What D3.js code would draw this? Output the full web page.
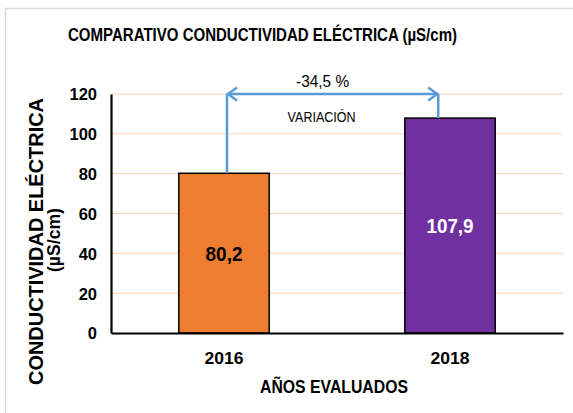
<!DOCTYPE html>
<html>
<head>
<meta charset="utf-8">
<script src="https://cdn.jsdelivr.net/npm/d3@7"></script>
<style>
  body { margin: 0; background: #fff; }
  svg text { font-family: "Liberation Sans", Arial, sans-serif; fill: #000; }
</style>
</head>
<body>
<div id="chart"></div>
<script>
// Data
const years = ["2016", "2018"];
const values = [80.2, 107.9];
const valueLabels = ["80,2", "107,9"];
const barColors = ["#ed7d31", "#7030a0"];
const labelColors = ["#000", "#fff"];
const yTicks = [0, 20, 40, 60, 80, 100, 120];
const variationText = "-34,5 %";

const W = 573, H = 413;
const margin = {top: 94, right: 10, bottom: 80, left: 111},
    width = 563 - margin.left,
    height = 333 - margin.top;

// squeeze text to look like a narrow font
function fit(sel, w) {
    sel.attr("textLength", w).attr("lengthAdjust", "spacingAndGlyphs");
}

const svg = d3.select("#chart")
    .append("svg")
    .attr("width", W)
    .attr("height", H);

// Outer frame
svg.append("path")
    .attr("d", "M5.5,413 L5.5,8.5 L573,8.5")
    .attr("fill", "none")
    .attr("stroke", "#d9d9d9")
    .attr("stroke-width", 1.5);

const g = svg.append("g")
    .attr("transform", `translate(${margin.left},${margin.top})`);

const x = d3.scaleBand()
    .domain(years)
    .range([0, width])
    .paddingInner(0.6)
    .paddingOuter(0.3);

const y = d3.scaleLinear()
    .domain([0, 120])
    .range([height, 0]);

// Gridlines
g.append("g")
    .selectAll("line")
    .data(yTicks.filter(d => d > 0))
    .join("line")
        .attr("x1", 0)
        .attr("x2", width)
        .attr("y1", d => y(d))
        .attr("y2", d => y(d))
        .attr("stroke", "#f9d3b8")
        .attr("stroke-width", 1);

// Bars
g.selectAll("rect.bar")
    .data(values)
    .join("rect")
        .attr("class", "bar")
        .attr("x", (d, i) => x(years[i]))
        .attr("y", d => y(d))
        .attr("width", x.bandwidth())
        .attr("height", d => height - y(d))
        .attr("fill", (d, i) => barColors[i])
        .attr("stroke", "#000")
        .attr("stroke-width", 1.5);

// Value labels (offset below the bar top, as placed in the original)
const labelOffset = [88, 115];
g.selectAll("text.val")
    .data(values)
    .join("text")
        .attr("class", "val")
        .attr("x", (d, i) => x(years[i]) + x.bandwidth() / 2)
        .attr("y", (d, i) => y(d) + labelOffset[i])
        .attr("text-anchor", "middle")
        .style("font-size", "21px")
        .style("font-weight", "bold")
        .style("fill", (d, i) => labelColors[i])
        .text((d, i) => valueLabels[i])
        .each(function(d, i) { fit(d3.select(this), i === 0 ? 37 : 47); });

// Y axis
const yAxis = g.append("g")
    .call(d3.axisLeft(y).tickValues(yTicks).tickSize(0).tickPadding(14));
yAxis.select(".domain").attr("stroke", "#000").attr("stroke-width", 2.2);
yAxis.selectAll("text")
    .style("font-size", "16.5px")
    .style("font-weight", "bold")
    .attr("dy", "0.36em");

// X axis
const xAxis = g.append("g")
    .attr("transform", `translate(0,${height})`)
    .call(d3.axisBottom(x).tickSize(0).tickPadding(0));
xAxis.select(".domain").attr("stroke", "#000").attr("stroke-width", 2.2);
xAxis.selectAll("text")
    .attr("dy", null)
    .attr("y", 31)
    .style("font-size", "17px")
    .style("font-weight", "bold")
    .each(function() { fit(d3.select(this), 39); });

// Variation bracket
const blue = "#5b9bd5";
const x1 = x("2016") + x.bandwidth() / 2 + 3;
const x2 = x("2018") + x.bandwidth() * 0.37;
const yTop = y(120);
const bracket = g.append("g")
    .attr("fill", "none")
    .attr("stroke", blue)
    .attr("stroke-width", 2.5);
bracket.append("line")
    .attr("x1", x1).attr("x2", x1)
    .attr("y1", yTop).attr("y2", y(values[0]));
bracket.append("line")
    .attr("x1", x2).attr("x2", x2)
    .attr("y1", yTop).attr("y2", y(values[1]));
bracket.append("line")
    .attr("x1", x1).attr("x2", x2)
    .attr("y1", yTop).attr("y2", yTop);
bracket.append("path")
    .attr("d", `M${x1 + 10},${yTop - 6.5} L${x1 + 1},${yTop} L${x1 + 10},${yTop + 6.5}`);
bracket.append("path")
    .attr("d", `M${x2 - 10},${yTop - 6.5} L${x2 - 1},${yTop} L${x2 - 10},${yTop + 6.5}`);

g.append("text")
    .attr("x", (x1 + x2) / 2 - 10)
    .attr("y", yTop - 7)
    .attr("text-anchor", "middle")
    .style("font-size", "16px")
    .text(variationText)
    .call(fit, 53);

g.append("text")
    .attr("x", (x1 + x2) / 2 - 11)
    .attr("y", yTop + 28)
    .attr("text-anchor", "middle")
    .style("font-size", "14px")
    .text("VARIACIÓN")
    .call(fit, 68);

// Title
svg.append("text")
    .attr("x", 262.5)
    .attr("y", 41)
    .attr("text-anchor", "middle")
    .style("font-size", "18px")
    .style("font-weight", "bold")
    .text("COMPARATIVO CONDUCTIVIDAD ELÉCTRICA (µS/cm)")
    .call(fit, 389);

// X axis label
svg.append("text")
    .attr("x", 334)
    .attr("y", 393)
    .attr("text-anchor", "middle")
    .style("font-size", "18px")
    .style("font-weight", "bold")
    .text("AÑOS EVALUADOS")
    .call(fit, 148);

// Y axis label (two lines)
svg.append("text")
    .attr("transform", "translate(43,241.5) rotate(-90)")
    .attr("text-anchor", "middle")
    .style("font-size", "20.5px")
    .style("font-weight", "bold")
    .text("CONDUCTIVIDAD ELÉCTRICA")
    .call(fit, 287);
svg.append("text")
    .attr("transform", "translate(60,240) rotate(-90)")
    .attr("text-anchor", "middle")
    .style("font-size", "18px")
    .style("font-weight", "bold")
    .text("(µS/cm)")
    .call(fit, 64);
</script>
</body>
</html>
